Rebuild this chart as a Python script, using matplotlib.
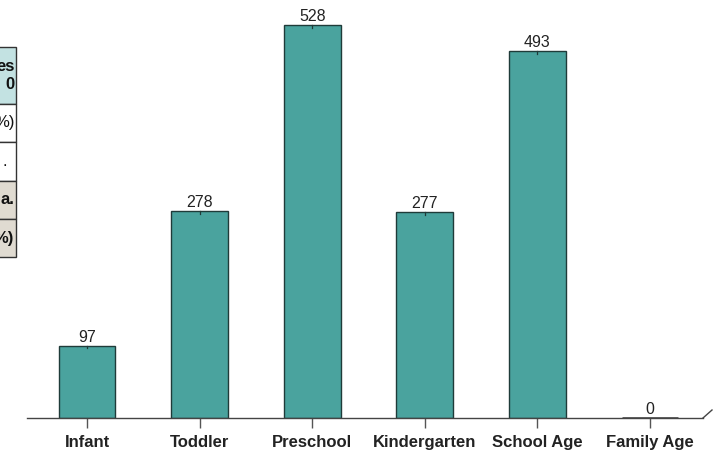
import matplotlib
matplotlib.use("Agg")
import matplotlib.pyplot as plt
from matplotlib.patches import Rectangle
from matplotlib.lines import Line2D

plt.rcParams['font.family'] = ['Liberation Sans', 'DejaVu Sans']

# Enrolment counts by age group
categories = ["Infant", "Toddler", "Preschool", "Kindergarten", "School Age", "Family Age"]
values = [97, 278, 528, 277, 493, 0]

# Right-hand edge of the side table (only its last characters fall inside the figure)
table_text = [["es", "0"], ["%)"], ["."], ["a."], ["%)"]]
table_bold = [True, False, False, True, True]
table_fill = ["#c3e2e2", "#ffffff", "#ffffff", "#e0dbd1", "#e0dbd1"]
table_rows_px = [(47, 104), (104, 142), (142, 181), (181, 219), (219, 257)]
table_text_x = [14.5, 14.5, 6.5, 14.5, 14.5]

W, H = 726, 454
fig = plt.figure(figsize=(W / 100, H / 100), dpi=100)

# main bar axes, placed in pixel terms
x_left, x_right = 27, 703
y_base, y_top = 418, 10
ax = fig.add_axes([x_left / W, (H - y_base) / H, (x_right - x_left) / W, (y_base - y_top) / H])

bar_color = "#4aa39e"
edge_color = "#1f3b39"
xs = list(range(len(categories)))
bars = ax.bar(xs, values, width=0.505, color=bar_color, edgecolor=edge_color, linewidth=1.0)
for b, v in zip(bars, values):
    if v == 0:
        b.set_linewidth(1.8)
        b.set_edgecolor("#333333")

# tiny centre mark hanging from the top of each bar
for x, v in zip(xs, values):
    if v > 0:
        ax.plot([x, x], [v - 3.5, v], color=edge_color, lw=0.9)

spacing = 112.6
ax.set_xlim((x_left - 87) / spacing, (x_right - 87) / spacing)
ax.set_ylim(0, (y_base - y_top) / 0.744)

for x, v in zip(xs, values):
    ax.text(x, v + 1, str(v), ha="center", va="bottom", fontsize=11.5, color="#222222")

ax.set_xticks(xs)
ax.set_xticklabels(categories, fontsize=12, fontweight="bold", color="#222222")
ax.tick_params(axis="x", length=7, width=1, color="#555555", pad=5)
ax.set_yticks([])
for s in ["top", "right", "left"]:
    ax.spines[s].set_visible(False)
ax.spines["bottom"].set_color("#444444")
ax.spines["bottom"].set_linewidth(1.0)

# slanted end mark on the baseline
ax.add_line(Line2D([1.0, 1.0 + 9 / (x_right - x_left)], [0.0, 8 / (y_base - y_top)],
                   transform=ax.transAxes, color="#444444", lw=1.0, clip_on=False))

# side table overlay in pixel coordinates
tax = fig.add_axes([0, 0, 1, 1], zorder=3)
tax.set_xlim(0, W)
tax.set_ylim(H, 0)
tax.axis("off")
for (y0, y1), fill, lines, bold, tx in zip(table_rows_px, table_fill, table_text,
                                            table_bold, table_text_x):
    tax.add_patch(Rectangle((-5, y0), 20.5, y1 - y0, facecolor=fill, edgecolor="#333333", lw=1.0))
    if len(lines) == 2:
        tax.text(tx, (y0 + y1) / 2 - 9, lines[0], ha="right", va="center", fontsize=12,
                 fontweight="bold", color="#111111")
        tax.text(tx, (y0 + y1) / 2 + 9, lines[1], ha="right", va="center", fontsize=12,
                 fontweight="bold", color="#111111")
    else:
        tax.text(tx, (y0 + y1) / 2, lines[0], ha="right", va="center", fontsize=12,
                 fontweight="bold" if bold else "normal", color="#111111")

fig.savefig("out.png", dpi=100)
